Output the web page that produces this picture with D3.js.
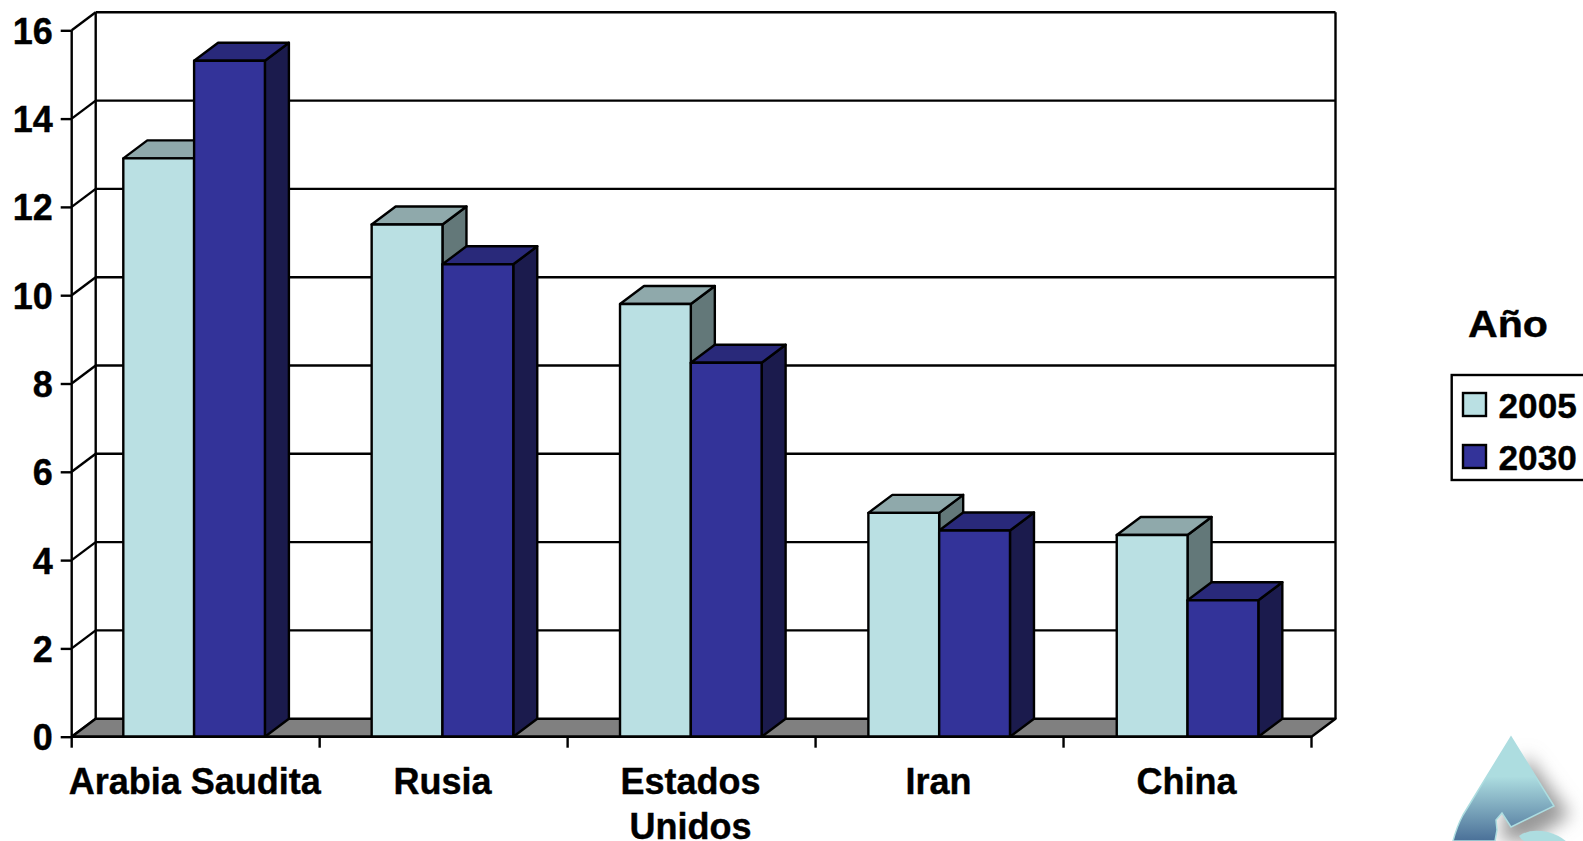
<!DOCTYPE html>
<html>
<head>
<meta charset="utf-8">
<script src="https://cdn.jsdelivr.net/npm/d3@7"></script>
<style>
  html, body { margin: 0; padding: 0; background: #fff; overflow: hidden; }
  text { font-family: "Liberation Sans", Arial, sans-serif; font-weight: bold; fill: #000; stroke: #000; stroke-width: 0.4px; }
</style>
</head>
<body>
<svg id="chart" width="1583" height="841"></svg>
<script>
// Values
const categories = ["Arabia Saudita", "Rusia", "Estados Unidos", "Iran", "China"];
const seriesNames = ["2005", "2030"];
const values2005 = [13.1, 11.6, 9.8, 5.07, 4.57];
const values2030 = [15.31, 10.7, 8.47, 4.67, 3.09];
const yTicks = [0, 2, 4, 6, 8, 10, 12, 14, 16];
const wrappedLabels = { "Estados Unidos": ["Estados", "Unidos"] };

const plotLeft = 71.7, plotRight = 1311.5, plotBottom = 736.7, plotTop = 30.3;
const depthX = 24, depthY = -18;   // offset of the back wall
const fontSize = 36;
const lineWidth = 2.4;

const colors = {
  "2005": { front: "#bae0e3", top: "#8fa9ab", side: "#637879" },
  "2030": { front: "#333399", top: "#29297a", side: "#1b1b4d" }
};

const svg = d3.select("#chart");

const y = d3.scaleLinear().domain([0, 16]).range([plotBottom, plotTop]);
const x = d3.scaleBand().domain(categories).range([plotLeft, plotRight]);
// the bars drift a little to the right of the tick bands in the original
const barBand = x.copy().range([plotLeft, plotRight + 2]);
const barX = d3.scaleBand().domain(seriesNames).range([51.6, 193.2]);

// Back wall and side wall
const wall = svg.append("g").attr("fill", "none").attr("stroke", "#000").attr("stroke-width", lineWidth);

wall.selectAll(".grid")
  .data(yTicks.slice(1))
  .enter()
  .append("line")
  .attr("class", "grid")
  .attr("x1", plotLeft + depthX)
  .attr("x2", plotRight + depthX)
  .attr("y1", d => y(d) + depthY)
  .attr("y2", d => y(d) + depthY);

wall.selectAll(".diag")
  .data(yTicks)
  .enter()
  .append("line")
  .attr("class", "diag")
  .attr("x1", plotLeft)
  .attr("x2", plotLeft + depthX)
  .attr("y1", d => y(d))
  .attr("y2", d => y(d) + depthY);

wall.append("line")
  .attr("x1", plotLeft + depthX).attr("x2", plotLeft + depthX)
  .attr("y1", y(16) + depthY).attr("y2", y(0) + depthY);
wall.append("line")
  .attr("x1", plotRight + depthX).attr("x2", plotRight + depthX)
  .attr("y1", y(16) + depthY).attr("y2", y(0) + depthY);
wall.append("line")
  .attr("x1", plotLeft).attr("x2", plotLeft)
  .attr("y1", y(16)).attr("y2", y(0));

// Floor
svg.append("polygon")
  .attr("points", [
    [plotLeft, y(0)],
    [plotLeft + depthX, y(0) + depthY],
    [plotRight + depthX, y(0) + depthY],
    [plotRight, y(0)]
  ].join(" "))
  .attr("fill", "#808080")
  .attr("stroke", "#000")
  .attr("stroke-width", lineWidth)
  .attr("stroke-linejoin", "round");

// Bars: 2005 first so that 2030 sits over its side face
const barData = [];
categories.forEach((c, i) => {
  barData.push({ category: c, series: "2005", value: values2005[i] });
  barData.push({ category: c, series: "2030", value: values2030[i] });
});

const bars = svg.selectAll(".bar")
  .data(barData)
  .enter()
  .append("g")
  .attr("class", "bar")
  .attr("stroke", "#000")
  .attr("stroke-width", lineWidth)
  .attr("stroke-linejoin", "round");

const barLeft = d => barBand(d.category) + barX(d.series);
const barRight = d => barLeft(d) + barX.bandwidth();

bars.append("polygon")
  .attr("fill", d => colors[d.series].side)
  .attr("points", d => [
    [barRight(d), y(d.value)],
    [barRight(d) + depthX, y(d.value) + depthY],
    [barRight(d) + depthX, y(0) + depthY],
    [barRight(d), y(0)]
  ].join(" "));

bars.append("polygon")
  .attr("fill", d => colors[d.series].top)
  .attr("points", d => [
    [barLeft(d), y(d.value)],
    [barLeft(d) + depthX, y(d.value) + depthY],
    [barRight(d) + depthX, y(d.value) + depthY],
    [barRight(d), y(d.value)]
  ].join(" "));

bars.append("rect")
  .attr("fill", d => colors[d.series].front)
  .attr("x", barLeft)
  .attr("y", d => y(d.value))
  .attr("width", barX.bandwidth())
  .attr("height", d => y(0) - y(d.value));

// Y axis
const yAxis = svg.append("g")
  .attr("transform", `translate(${plotLeft},0)`)
  .call(d3.axisLeft(y).tickValues(yTicks).tickSize(11).tickPadding(8));
yAxis.select(".domain").remove();
yAxis.selectAll("line").attr("stroke", "#000").attr("stroke-width", lineWidth);
yAxis.selectAll("text")
  .style("font-size", fontSize + "px")
  .style("font-family", '"Liberation Sans", Arial, sans-serif')
  .attr("dy", "0.36em");

// X axis: ticks on the band edges, labels in the band centres
const edges = categories.map(c => x(c)).concat(plotRight);
svg.append("line")
  .attr("x1", plotLeft).attr("x2", plotRight)
  .attr("y1", y(0)).attr("y2", y(0))
  .attr("stroke", "#000").attr("stroke-width", lineWidth);
svg.selectAll(".xtick")
  .data(edges)
  .enter()
  .append("line")
  .attr("class", "xtick")
  .attr("x1", d => d).attr("x2", d => d)
  .attr("y1", y(0)).attr("y2", y(0) + 11)
  .attr("stroke", "#000").attr("stroke-width", lineWidth);

const xLabels = svg.selectAll(".xlabel")
  .data(categories)
  .enter()
  .append("text")
  .attr("class", "xlabel")
  .attr("text-anchor", "middle")
  .style("font-size", fontSize + "px");

xLabels.selectAll("tspan")
  .data(d => (wrappedLabels[d] || [d]).map(line => ({ line, category: d })))
  .enter()
  .append("tspan")
  .attr("x", d => x(d.category) + x.bandwidth() / 2 - 1)
  .attr("y", (d, i) => 794 + i * 45)
  .text(d => d.line);

// Legend
svg.append("text")
  .attr("x", 1468)
  .attr("y", 337)
  .attr("textLength", 80)
  .attr("lengthAdjust", "spacingAndGlyphs")
  .style("font-size", fontSize + "px")
  .text("Año");

svg.append("rect")
  .attr("x", 1451.7).attr("y", 375)
  .attr("width", 140).attr("height", 105)
  .attr("fill", "#fff").attr("stroke", "#000").attr("stroke-width", lineWidth);

const legendRows = svg.selectAll(".legend-row")
  .data(seriesNames)
  .enter()
  .append("g")
  .attr("class", "legend-row")
  .attr("transform", (d, i) => `translate(1463, ${393 + i * 52})`);

legendRows.append("rect")
  .attr("width", 23)
  .attr("height", 23)
  .attr("fill", d => colors[d].front)
  .attr("stroke", "#000")
  .attr("stroke-width", lineWidth);

legendRows.append("text")
  .attr("x", 35.5)
  .attr("y", 25)
  .style("font-size", "35.2px")
  .text(d => d);

// Corner logo, cut off by the bottom of the page
const defs = svg.append("defs");
const grad = defs.append("linearGradient")
  .attr("id", "logoFill")
  .attr("gradientUnits", "userSpaceOnUse")
  .attr("x1", 0).attr("x2", 0).attr("y1", 737).attr("y2", 841);
grad.append("stop").attr("offset", 0.38).attr("stop-color", "#addde0");
grad.append("stop").attr("offset", 1).attr("stop-color", "#4a7098");
defs.append("filter")
  .attr("id", "logoBlur")
  .attr("x", "-50%").attr("y", "-50%").attr("width", "200%").attr("height", "200%")
  .append("feGaussianBlur")
  .attr("stdDeviation", 9);

const logoPath = "M1511,737 L1554,806 L1511,827 L1502,813 L1496,820 L1497,830 L1495,841 L1453,841 Q1457,826 1463,815 Z";
svg.append("path")
  .attr("d", "M1526,755 L1570,815 L1530,841 L1500,841 L1505,815 Z")
  .attr("fill", "#999")
  .attr("filter", "url(#logoBlur)");
svg.append("path")
  .attr("d", logoPath)
  .attr("fill", "url(#logoFill)")
  .attr("stroke", "#addde0")
  .attr("stroke-width", 1.5);
svg.append("path")
  .attr("d", "M1519,836 Q1530,828 1548,832 Q1562,836 1570,845 L1535,845 Q1522,842 1519,836 Z")
  .attr("fill", "#addde0");
</script>
</body>
</html>
